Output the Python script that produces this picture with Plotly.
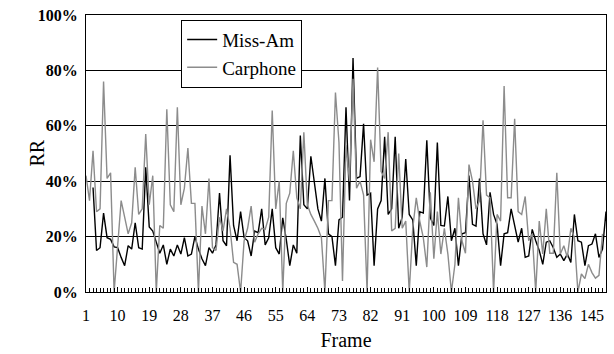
import plotly.graph_objects as go

frames = list(range(1, 151))

miss_am = [None, None, 37.7, 15, 16, 28.5, 19.6, 19, 16.3, 16,
           12.5, 9.5, 16.7, 15.5, 25, 16, 15.5, 45, 23.5, 22,
           18, 14, 17, 10, 15.5, 13, 17, 13.7, 19.6, 13,
           13.7, 20, 15.5, 12, 9.5, 16, 14, 17, 35.7, 18.5,
           16.7, 49.4, 24, 18.5, 29, 19.6, 18.5, 13, 22, 21.4,
           30, 17, 19.6, 30, 16, 13.7, 26.8, 19, 9.5, 17,
           14, 56.5, 31.5, 30, 49, 38.7, 30, 25.6, 41, 21,
           20, 9.5, 26, 27, 66.7, 33, 84.5, 41, 41.7, 60.7,
           35, 35.7, 9.5, 30, 33, 56, 28, 30, 56, 23,
           27, 48, 28, 26, 9.5, 29, 28.5, 54.8, 26.8, 24,
           54, 24, 23.8, 34.5, 18.5, 23, 9.5, 21, 21.4, 42,
           24.4, 23.8, 41, 21, 17, 36, 28, 24.4, 9.5, 21,
           21.4, 30, 24, 18, 23, 12.5, 13, 22.6, 18.5, 15,
           10, 18, 18.5, 16, 12.5, 13.7, 11.3, 13.7, 10.7, 28,
           18.5, 18, 9.5, 16.7, 17.3, 21, 12.5, 15.5, 29, 11.3]

carphone = [42, 33, 51, 29, 30, 76, 41, 43, 0, 18,
            33, 27, 21, 25, 45, 28, 30, 57, 31.5, 42,
            0, 24, 23, 66, 31.5, 29, 66.7, 31.5, 37.5, 52,
            32, 32, 0, 31, 21, 41, 16, 15, 27, 22,
            30, 23, 10.7, 10, 0, 18.5, 23, 31, 18, 21,
            23, 22.6, 27, 65.5, 30, 40, 0, 32, 35.7, 51,
            34, 30, 57.7, 31.5, 28, 25.6, 23, 19.6, 0, 33,
            33, 72, 54, 4, 53, 40, 77, 37.5, 40, 35,
            0, 55, 47, 81, 43.5, 41, 57.7, 22, 23, 50,
            23, 25.6, 0, 23, 34, 25.6, 19.6, 9, 36, 12,
            29, 13.7, 23, 13.7, 0, 10, 34, 18.5, 14, 46,
            40, 30, 33, 62, 35, 34, 0, 28, 25.6, 74.4,
            34, 34, 62.5, 29, 28, 34.5, 18.5, 21, 0, 25.6,
            13.7, 30, 14, 14, 43, 13.7, 16.7, 12.5, 23, 19.6,
            0, 6.5, 4.8, 10, 7, 5, 6, 21, None, None]

y_tick_vals = [0, 20, 40, 60, 80, 100]
y_tick_text = ["<b>0%</b>", "<b>20%</b>", "<b>40%</b>", "<b>60%</b>", "<b>80%</b>", "<b>100%</b>"]

FONT = "Liberation Serif, Times New Roman, serif"

fig = go.Figure()
fig.add_trace(go.Scatter(x=frames, y=miss_am, mode="lines", name="Miss-Am",
                         line=dict(color="#000000", width=1.4)))
fig.add_trace(go.Scatter(x=frames, y=carphone, mode="lines", name="Carphone",
                         line=dict(color="#8c8c8c", width=1.4)))

fig.update_layout(
    width=614, height=354,
    margin=dict(l=86, r=7, t=13, b=62),
    paper_bgcolor="white", plot_bgcolor="white",
    font=dict(family=FONT, color="black", size=16),
    showlegend=True,
    legend=dict(x=0.183, y=0.983, xanchor="left", yanchor="top",
                bgcolor="white", bordercolor="black", borderwidth=1,
                font=dict(family=FONT, size=19, color="black"),
                tracegroupgap=0),
    annotations=[dict(text="RR", xref="paper", yref="paper",
                      x=-(86 - 36) / 521, y=0.5, xanchor="center", yanchor="middle",
                      textangle=-90, showarrow=False,
                      font=dict(family=FONT, size=20, color="black"))],
)
fig.update_xaxes(
    range=[1, 149], tickmode="linear", tick0=1, dtick=9,
    ticks="inside", ticklen=5, tickcolor="black", tickwidth=1,
    minor=dict(tickmode="linear", tick0=1, dtick=1, ticks="inside",
               ticklen=4, tickcolor="black", tickwidth=1),
    showgrid=False, zeroline=False,
    showline=True, linecolor="black", linewidth=1, mirror=True,
    tickfont=dict(family=FONT, size=16, color="black"),
    ticklabelstandoff=9,
    title=dict(text="Frame", font=dict(family=FONT, size=20, color="black"), standoff=9),
)
fig.update_yaxes(
    range=[0, 100], tickmode="array", tickvals=y_tick_vals, ticktext=y_tick_text,
    ticks="", showgrid=True, gridcolor="black", gridwidth=1, zeroline=False,
    showline=True, linecolor="black", linewidth=1, mirror=True,
    tickfont=dict(family=FONT, size=16, color="black"),
    ticklabelstandoff=4,
)

fig.write_html("out.html")
